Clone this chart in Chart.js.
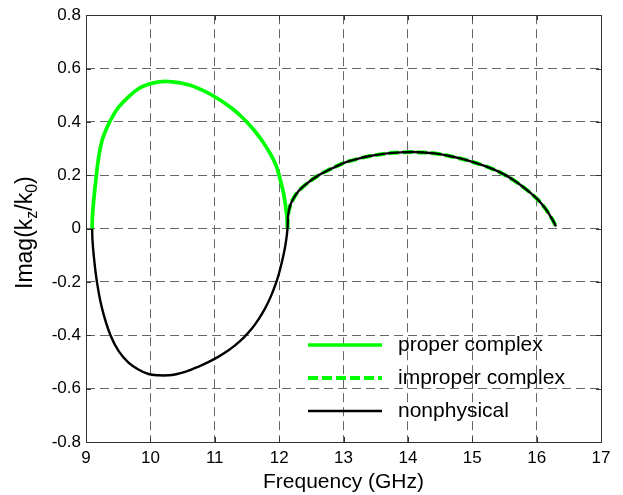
<!DOCTYPE html>
<html><head><meta charset="utf-8">
<script src="https://cdn.jsdelivr.net/npm/chart.js@4/dist/chart.umd.min.js"></script>
<style>html,body{margin:0;padding:0;background:#fff}canvas{display:block}</style>
</head><body>
<canvas id="c" width="623" height="495"></canvas>
<script>
// Upper-left arc (proper complex)
const freqProper=[9.096,9.10,9.12,9.147,9.19,9.25,9.33,9.41,9.51,9.66,9.82,9.97,10.13,10.24,10.34,10.49,10.62,10.75,10.88,11.0,11.14,11.27,11.40,11.52,11.63,11.73,11.82,11.89,11.95,11.99,12.03,12.07,12.10,12.12,12.13];
const imagProper=[0,0.045,0.106,0.169,0.256,0.331,0.381,0.419,0.456,0.494,0.525,0.541,0.55,0.552,0.55,0.545,0.537,0.525,0.511,0.494,0.473,0.45,0.423,0.394,0.363,0.331,0.298,0.269,0.238,0.208,0.172,0.131,0.085,0.045,0.006];
// Lower arc (nonphysical)
const freqLower=[9.096,9.10,9.12,9.17,9.25,9.38,9.51,9.66,9.82,9.97,10.13,10.28,10.40,10.54,10.67,10.80,10.93,11.06,11.19,11.32,11.45,11.58,11.68,11.78,11.87,11.94,11.99,12.04,12.08,12.11,12.13];
const imagLower=[0,-0.04,-0.1,-0.2,-0.3,-0.4,-0.46,-0.502,-0.529,-0.545,-0.55,-0.55,-0.546,-0.537,-0.525,-0.512,-0.497,-0.48,-0.46,-0.437,-0.409,-0.374,-0.34,-0.3,-0.255,-0.212,-0.175,-0.128,-0.085,-0.042,0];
// Right arc (improper complex == nonphysical)
const freqRight=[12.13,12.14,12.17,12.22,12.30,12.40,12.52,12.65,12.79,12.92,13.05,13.23,13.41,13.59,13.77,13.92,14.08,14.26,14.45,14.63,14.81,14.99,15.17,15.33,15.48,15.64,15.79,15.90,16.0,16.08,16.15,16.21,16.25,16.28,16.30];
const imagRight=[0,0.05,0.085,0.112,0.14,0.163,0.185,0.205,0.222,0.237,0.25,0.262,0.272,0.279,0.284,0.286,0.287,0.285,0.281,0.273,0.263,0.251,0.237,0.222,0.205,0.182,0.156,0.135,0.113,0.092,0.07,0.048,0.032,0.018,0.008];

const seriesLabels=['proper complex','improper complex','nonphysical'];
const xTickValues=[9,10,11,12,13,14,15,16,17];
const yTickValues=[-0.8,-0.6,-0.4,-0.2,0,0.2,0.4,0.6,0.8];
const xTitle='Frequency (GHz)';

const pts=(xs,ys)=>xs.map((x,i)=>({x:x,y:ys[i]}));
const FONT="'Liberation Sans', Arial, sans-serif";

const common={showLine:true,pointRadius:0,tension:0.4,borderCapStyle:'butt'};
const dsProper=Object.assign({label:seriesLabels[0],data:pts(freqProper,imagProper),borderColor:'#00ff00',borderWidth:3.7,order:2},common);
const dsImproper=Object.assign({label:seriesLabels[1],data:pts(freqRight,imagRight),borderColor:'#00ff00',borderWidth:4,borderDash:[10,4],order:1},common);
const dsNon=Object.assign({label:seriesLabels[2],data:pts(freqLower.concat(freqRight.slice(1)),imagLower.concat(imagRight.slice(1))),borderColor:'#000000',borderWidth:2.4,order:0},common);

const decor={
  id:'decor',
  afterDraw(chart){
    const ctx=chart.ctx, a=chart.chartArea, xs=chart.scales.x, ys=chart.scales.y;
    ctx.save();
    ctx.strokeStyle='#333'; ctx.lineWidth=1; ctx.setLineDash([]);
    ctx.beginPath();
    xTickValues.forEach(v=>{const p=Math.round(xs.getPixelForValue(v))+0.5;
      ctx.moveTo(p,a.bottom);ctx.lineTo(p,a.bottom-5);ctx.moveTo(p,a.top);ctx.lineTo(p,a.top+5);});
    yTickValues.forEach(v=>{const p=Math.round(ys.getPixelForValue(v))+0.5;
      ctx.moveTo(a.left,p);ctx.lineTo(a.left+5,p);ctx.moveTo(a.right,p);ctx.lineTo(a.right-5,p);});
    ctx.stroke();
    ctx.strokeRect(Math.round(a.left)+0.5,Math.round(a.top)+0.5,Math.round(a.right-a.left),Math.round(a.bottom-a.top));
    // x title
    ctx.fillStyle='#000'; ctx.font='21px '+FONT; ctx.textAlign='center'; ctx.textBaseline='middle';
    ctx.fillText(xTitle,(a.left+a.right)/2,482);
    // y title with subscripts
    ctx.translate(32,(a.top+a.bottom)/2+4); ctx.rotate(-Math.PI/2);
    const parts=[['Imag(k',0],['z',1],['/k',0],['0',1],[')',0]];
    const fz=p=>(p[1]?'16px ':'23px ')+FONT;
    let total=0;
    parts.forEach(p=>{ctx.font=fz(p); total+=ctx.measureText(p[0]).width;});
    let x=-total/2; ctx.textAlign='left'; ctx.textBaseline='alphabetic';
    parts.forEach(p=>{ctx.font=fz(p); ctx.fillText(p[0],x,p[1]?5:0); x+=ctx.measureText(p[0]).width;});
    ctx.setTransform(1,0,0,1,0,0);
    // legend
    const rows=[345,378,411];
    const lx1=a.right-293, lx2=a.right-219, tx=a.right-203;
    [dsProper,dsImproper,dsNon].forEach((d,i)=>{
      ctx.strokeStyle=d.borderColor; ctx.lineWidth=d.borderWidth; ctx.setLineDash(d.borderDash||[]);
      ctx.beginPath(); ctx.moveTo(lx1,rows[i]); ctx.lineTo(lx2,rows[i]); ctx.stroke();
      ctx.setLineDash([]);
      ctx.fillStyle='#000'; ctx.font='21px '+FONT; ctx.textAlign='left'; ctx.textBaseline='middle';
      ctx.fillText(d.label,tx,rows[i]);
    });
    ctx.restore();
  }
};

new Chart(document.getElementById('c'),{
  type:'scatter',
  data:{datasets:[dsProper,dsImproper,dsNon]},
  options:{
    responsive:false, animation:false, devicePixelRatio:1,
    layout:{padding:{top:15,right:22,left:0,bottom:0}},
    plugins:{legend:{display:false},tooltip:{enabled:false}},
    scales:{
      x:{type:'linear',min:9,max:17,
        afterBuildTicks:s=>{s.ticks=xTickValues.map(v=>({value:v}));},
        afterFit:s=>{s.height=53;},
        ticks:{color:'#000',font:{family:FONT,size:17},padding:6,maxRotation:0},
        grid:{color:'#666',lineWidth:1,drawTicks:false},
        border:{display:false,dash:[9,5]}},
      y:{type:'linear',min:-0.8,max:0.8,
        afterBuildTicks:s=>{s.ticks=yTickValues.map(v=>({value:v}));},
        afterFit:s=>{s.width=86;},
        ticks:{color:'#000',font:{family:FONT,size:17},padding:5,callback:v=>String(Number(v.toFixed(1)))},
        grid:{color:'#666',lineWidth:1,drawTicks:false},
        border:{display:false,dash:[9,5]}}
    }
  },
  plugins:[decor]
});
</script>
</body></html>
